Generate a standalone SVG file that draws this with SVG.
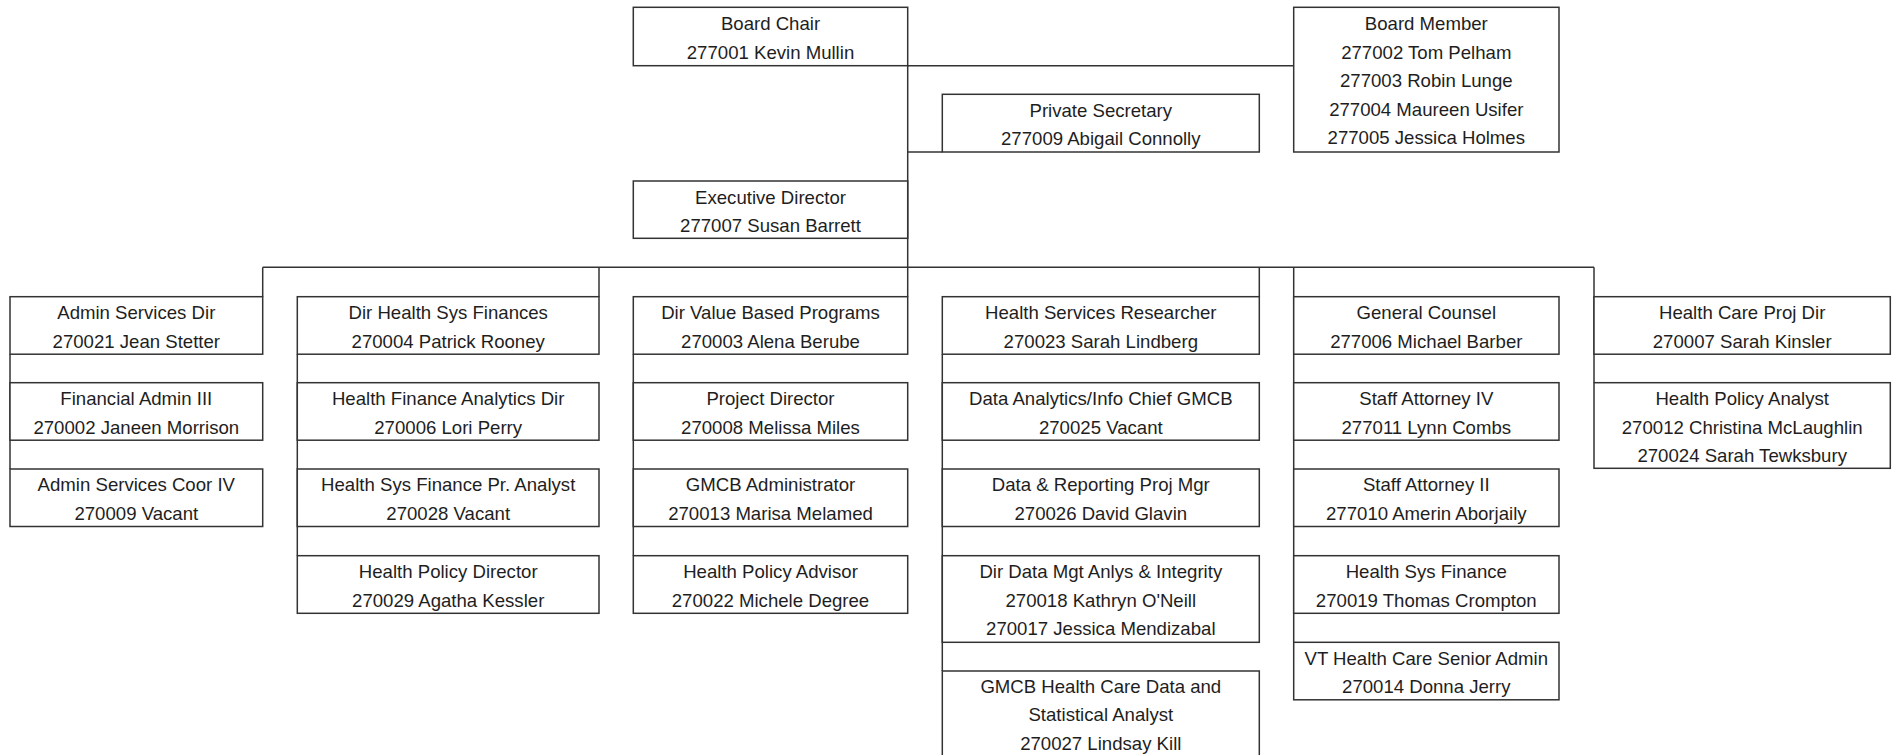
<svg xmlns="http://www.w3.org/2000/svg" width="1893" height="755" viewBox="0 0 1893 755">
<style>
.box{fill:#ffffff;stroke:#333333;stroke-width:1.5}
.ln{fill:none;stroke:#333333;stroke-width:1.5}
text{font-family:"Liberation Sans",Arial,sans-serif;font-size:18.6px;fill:#1e1e1e;text-anchor:middle}
</style>
<rect x="0" y="0" width="1893" height="755" fill="#ffffff"/>
<g id="connectors">
<path class="ln" d="M907.7,65.7 V296.7"/>
<path class="ln" d="M907.7,65.7 H1293.7"/>
<path class="ln" d="M907.7,152 H942.3"/>
<path class="ln" d="M262.7,267.3 H1594"/>
<path class="ln" d="M262.7,267.3 V296.7"/>
<path class="ln" d="M599,267.3 V296.7"/>
<path class="ln" d="M1259.3,267.3 V296.7"/>
<path class="ln" d="M10,354.2 V469"/>
<path class="ln" d="M297.3,354.2 V555.7"/>
<path class="ln" d="M633.3,354.2 V555.7"/>
<path class="ln" d="M942.3,354.2 V671"/>
<path class="ln" d="M1293.7,267.3 V642.3"/>
<path class="ln" d="M1594,267.3 V382.7"/>
</g>
<g id="board-chair"><rect class="box" x="633.3" y="7.3" width="274.4" height="58.4"/><text x="770.5" y="30">Board Chair</text><text x="770.5" y="58.6">277001 Kevin Mullin</text></g>
<g id="board-member"><rect class="box" x="1293.7" y="7.3" width="265.3" height="144.7"/><text x="1426.3" y="30">Board Member</text><text x="1426.3" y="58.6">277002 Tom Pelham</text><text x="1426.3" y="87.2">277003 Robin Lunge</text><text x="1426.3" y="115.8">277004 Maureen Usifer</text><text x="1426.3" y="144.4">277005 Jessica Holmes</text></g>
<g id="private-secretary"><rect class="box" x="942.3" y="94.3" width="317" height="57.7"/><text x="1100.8" y="116.8">Private Secretary</text><text x="1100.8" y="145.4">277009 Abigail Connolly</text></g>
<g id="executive-director"><rect class="box" x="633.3" y="181" width="274.4" height="57.3"/><text x="770.5" y="203.5">Executive Director</text><text x="770.5" y="232.1">277007 Susan Barrett</text></g>

<g id="admin-services-dir"><rect class="box" x="10" y="296.7" width="252.7" height="57.5"/><text x="136.3" y="319">Admin Services Dir</text><text x="136.3" y="347.6">270021 Jean Stetter</text></g>
<g id="financial-admin"><rect class="box" x="10" y="382.7" width="252.7" height="57.5"/><text x="136.3" y="405">Financial Admin III</text><text x="136.3" y="433.6">270002 Janeen Morrison</text></g>
<g id="admin-services-coor"><rect class="box" x="10" y="469" width="252.7" height="57.5"/><text x="136.3" y="491.3">Admin Services Coor IV</text><text x="136.3" y="519.9">270009 Vacant</text></g>

<g id="dir-health-sys-finances"><rect class="box" x="297.3" y="296.7" width="301.7" height="57.5"/><text x="448.2" y="319">Dir Health Sys Finances</text><text x="448.2" y="347.6">270004 Patrick Rooney</text></g>
<g id="health-finance-analytics"><rect class="box" x="297.3" y="382.7" width="301.7" height="57.5"/><text x="448.2" y="405">Health Finance Analytics Dir</text><text x="448.2" y="433.6">270006 Lori Perry</text></g>
<g id="health-sys-finance-analyst"><rect class="box" x="297.3" y="469" width="301.7" height="57.5"/><text x="448.2" y="491.3">Health Sys Finance Pr. Analyst</text><text x="448.2" y="519.9">270028 Vacant</text></g>
<g id="health-policy-director"><rect class="box" x="297.3" y="555.7" width="301.7" height="57.6"/><text x="448.2" y="578">Health Policy Director</text><text x="448.2" y="606.6">270029 Agatha Kessler</text></g>

<g id="dir-value-based"><rect class="box" x="633.3" y="296.7" width="274.4" height="57.5"/><text x="770.5" y="319">Dir Value Based Programs</text><text x="770.5" y="347.6">270003 Alena Berube</text></g>
<g id="project-director"><rect class="box" x="633.3" y="382.7" width="274.4" height="57.5"/><text x="770.5" y="405">Project Director</text><text x="770.5" y="433.6">270008 Melissa Miles</text></g>
<g id="gmcb-administrator"><rect class="box" x="633.3" y="469" width="274.4" height="57.5"/><text x="770.5" y="491.3">GMCB Administrator</text><text x="770.5" y="519.9">270013 Marisa Melamed</text></g>
<g id="health-policy-advisor"><rect class="box" x="633.3" y="555.7" width="274.4" height="57.6"/><text x="770.5" y="578">Health Policy Advisor</text><text x="770.5" y="606.6">270022 Michele Degree</text></g>

<g id="health-services-researcher"><rect class="box" x="942.3" y="296.7" width="317" height="57.5"/><text x="1100.8" y="319">Health Services Researcher</text><text x="1100.8" y="347.6">270023 Sarah Lindberg</text></g>
<g id="data-analytics-chief"><rect class="box" x="942.3" y="382.7" width="317" height="57.5"/><text x="1100.8" y="405">Data Analytics/Info Chief GMCB</text><text x="1100.8" y="433.6">270025 Vacant</text></g>
<g id="data-reporting-mgr"><rect class="box" x="942.3" y="469" width="317" height="57.5"/><text x="1100.8" y="491.3">Data &amp; Reporting Proj Mgr</text><text x="1100.8" y="519.9">270026 David Glavin</text></g>
<g id="dir-data-mgt"><rect class="box" x="942.3" y="555.7" width="317" height="86.6"/><text x="1100.8" y="578">Dir Data Mgt Anlys &amp; Integrity</text><text x="1100.8" y="606.6">270018 Kathryn O'Neill</text><text x="1100.8" y="635.2">270017 Jessica Mendizabal</text></g>
<g id="gmcb-data-analyst"><rect class="box" x="942.3" y="671" width="317" height="88"/><text x="1100.8" y="692.8">GMCB Health Care Data and</text><text x="1100.8" y="721.4">Statistical Analyst</text><text x="1100.8" y="750">270027 Lindsay Kill</text></g>

<g id="general-counsel"><rect class="box" x="1293.7" y="296.7" width="265.3" height="57.5"/><text x="1426.3" y="319">General Counsel</text><text x="1426.3" y="347.6">277006 Michael Barber</text></g>
<g id="staff-attorney-iv"><rect class="box" x="1293.7" y="382.7" width="265.3" height="57.5"/><text x="1426.3" y="405">Staff Attorney IV</text><text x="1426.3" y="433.6">277011 Lynn Combs</text></g>
<g id="staff-attorney-ii"><rect class="box" x="1293.7" y="469" width="265.3" height="57.5"/><text x="1426.3" y="491.3">Staff Attorney II</text><text x="1426.3" y="519.9">277010 Amerin Aborjaily</text></g>
<g id="health-sys-finance"><rect class="box" x="1293.7" y="555.7" width="265.3" height="57.6"/><text x="1426.3" y="578">Health Sys Finance</text><text x="1426.3" y="606.6">270019 Thomas Crompton</text></g>
<g id="vt-health-care-admin"><rect class="box" x="1293.7" y="642.3" width="265.3" height="57.5"/><text x="1426.3" y="664.6">VT Health Care Senior Admin</text><text x="1426.3" y="693.2">270014 Donna Jerry</text></g>

<g id="health-care-proj-dir"><rect class="box" x="1594" y="296.7" width="296.3" height="57.5"/><text x="1742.2" y="319">Health Care Proj Dir</text><text x="1742.2" y="347.6">270007 Sarah Kinsler</text></g>
<g id="health-policy-analyst"><rect class="box" x="1594" y="382.7" width="296.3" height="85.6"/><text x="1742.2" y="405">Health Policy Analyst</text><text x="1742.2" y="433.6">270012 Christina McLaughlin</text><text x="1742.2" y="462.2">270024 Sarah Tewksbury</text></g>
</svg>
